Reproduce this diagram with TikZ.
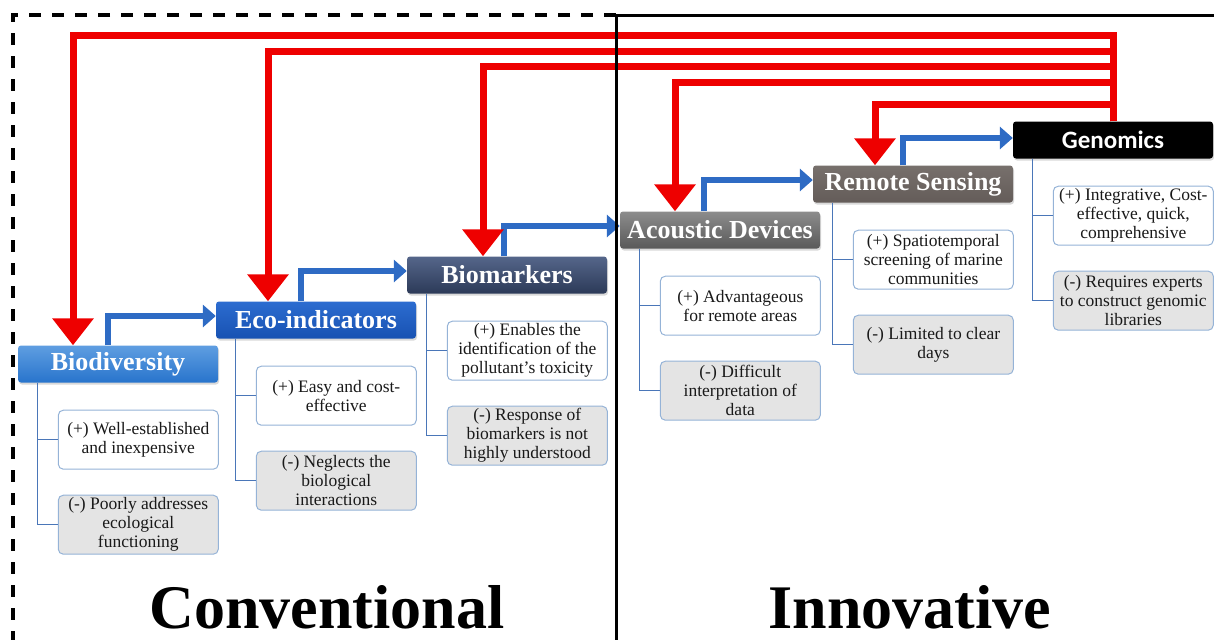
\documentclass[tikz,border=0pt]{standalone}
\usepackage{fontspec}
\setmainfont{Liberation Serif}
\newfontfamily\genfont{Carlito}
\usepackage{xcolor}
\usetikzlibrary{arrows.meta,positioning,shadows}

\definecolor{linkred}{HTML}{EE0000}
\definecolor{linkblue}{HTML}{2E6BC4}
\definecolor{boxedge}{HTML}{95B3D7}
\definecolor{treeblue}{HTML}{4A76B8}
\definecolor{confill}{HTML}{E4E4E4}

\begin{document}
\begin{tikzpicture}
            [x=1pt,y=-1pt,
             stage node/.style={rounded corners=3pt, minimum width=200pt, minimum height=37pt, inner sep=0pt, text=white,
               font=\fontsize{26}{28}\selectfont\bfseries, drop shadow={opacity=.3,shadow xshift=1pt,shadow yshift=-2pt}},
             pro node/.style={draw=boxedge, line width=1pt, rounded corners=5pt, fill=white, minimum width=160pt,
               minimum height=59pt, inner sep=1pt, align=center, font=\fontsize{17.5}{19}\selectfont, text=black!90},
             con node/.style={pro node, fill=confill},
             tree line/.style={draw=treeblue, line width=1.2pt},
             red link/.style={draw=linkred, line width=7pt, -{Triangle[width=40pt,length=27pt]}},
             blue link/.style={draw=linkblue, line width=6pt, -{Triangle[width=22pt,length=13pt]}},
             side label/.style={font=\fontsize{62}{64}\selectfont\bfseries, anchor=base}]
            \useasboundingbox (0,0) rectangle (1214,640);

            % stages
            \node[stage node, top color={rgb,255:red,95;green,158;blue,225}, bottom color={rgb,255:red,40;green,116;blue,204}] (bio) at (118,364) {Biodiversity};
            \node[stage node, top color={rgb,255:red,44;green,108;blue,208}, bottom color={rgb,255:red,24;green,82;blue,178}] (eco) at (316,320) {Eco-indicators};
            \node[stage node, top color={rgb,255:red,85;green,102;blue,138}, bottom color={rgb,255:red,44;green,58;blue,88}] (bmk) at (507,275) {Biomarkers};
            \node[stage node, top color=black!45, bottom color=black!65] (aco) at (720,230) {Acoustic Devices};
            \node[stage node, top color={rgb,255:red,119;green,112;blue,108}, bottom color={rgb,255:red,100;green,92;blue,89}] (rem) at (913,184) {Remote Sensing};
            \node[stage node, fill=black, font=\genfont\fontsize{25}{27}\selectfont\bfseries] (gen) at (1113,140) {Genomics};

            % pros and cons
            \node[pro node, below right=27pt and 40pt of bio.south west] (bioP) {(+) Well-established\\and inexpensive};
            \node[con node, below=25pt of bioP] (bioM) {(-) Poorly addresses\\ecological\\functioning};
            \node[pro node, below right=27pt and 40pt of eco.south west] (ecoP) {(+) Easy and cost-\\effective};
            \node[con node, below=25pt of ecoP] (ecoM) {(-) Neglects the\\biological\\interactions};
            \node[pro node, below right=27pt and 40pt of bmk.south west] (bmkP) {(+) Enables the\\identification of the\\pollutant's toxicity};
            \node[con node, below=25pt of bmkP] (bmkM) {(-) Response of\\biomarkers is not\\highly understood};
            \node[pro node, below right=27pt and 40pt of aco.south west] (acoP) {(+) Advantageous\\for remote areas};
            \node[con node, below=25pt of acoP] (acoM) {(-) Difficult\\interpretation of\\data};
            \node[pro node, below right=27pt and 40pt of rem.south west] (remP) {(+) Spatiotemporal\\screening of marine\\communities};
            \node[con node, below=25pt of remP] (remM) {(-) Limited to clear\\days};
            \node[pro node, below right=27pt and 40pt of gen.south west] (genP) {(+) Integrative, Cost-\\effective, quick,\\comprehensive};
            \node[con node, below=25pt of genP] (genM) {(-) Requires experts\\to construct genomic\\libraries};

            \foreach \s in {bio,eco,bmk,aco,rem,gen}
              {
              \draw[tree line] ([xshift=20pt]\s.south west) |- (\s M.west);
              \draw[tree line] ([xshift=20pt]\s.south west) |- (\s P.west);
              }

            % blue steps
            \draw[blue link] ([xshift=90pt]bio.north west) |- ([yshift=4pt]eco.west);
            \draw[blue link] ([xshift=85pt]eco.north west) |- ([yshift=4pt]bmk.west);
            \draw[blue link] ([xshift=97pt]bmk.north west) |- ([yshift=4pt]aco.west);
            \draw[blue link] ([xshift=84pt]aco.north west) |- ([yshift=4pt]rem.west);
            \draw[blue link] ([xshift=90pt]rem.north west) |- ([yshift=2pt]gen.west);

            % red feedback
            \coordinate (r1) at (73,35);
            \coordinate (r2) at (268,51);
            \coordinate (r3) at (483,66);
            \coordinate (r4) at (675,82);
            \coordinate (r5) at (875,104);
            \draw[red link] (gen.north) |- (r1) -- (r1 |- bio.north);
            \draw[red link] (gen.north) |- (r2) -- (r2 |- eco.north);
            \draw[red link] (gen.north) |- (r3) -- (r3 |- bmk.north);
            \draw[red link] (gen.north) |- (r4) -- (r4 |- aco.north);
            \draw[red link] (gen.north) |- (r5) -- (r5 |- rem.north);

            % frames
            \draw[line width=4pt, dash pattern=on 12pt off 11pt] (616,15) -- (13,15) -- (13,640);
            \draw[line width=3pt] (1214,15) -- (616,15) -- (616,640);

            \node[side label] (conv) at (327,628) {Conventional};
            \node[side label] (innov) at (910,628) {Innovative};
        \end{tikzpicture}
\end{document}
